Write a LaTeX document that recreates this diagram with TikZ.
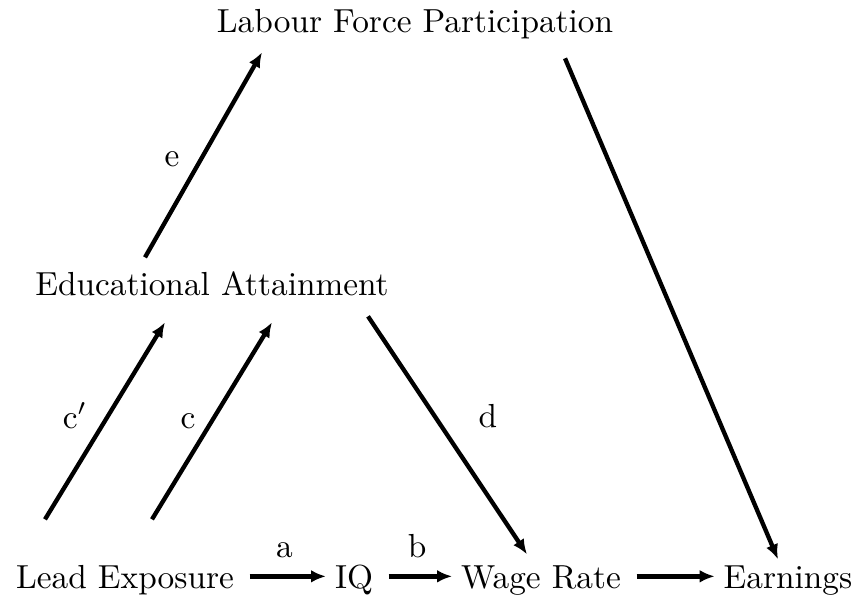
\documentclass[tikz,border=0pt]{standalone}
\usetikzlibrary{arrows.meta}

\begin{document}
\begin{tikzpicture}[
        x=0.3pt, y=0.3pt,
        % --- Styles for the nodes ---
        var/.style={inner sep=2.5pt, text height=8pt, text depth=1pt, anchor=base},
        coef/.style={inner sep=0pt, anchor=base},
        % --- Style for the connectors ---
        link/.style={line width=1.3pt, -{Latex[length=4.5pt, width=3.8pt]}}
    ]

    \useasboundingbox (0,0) rectangle (866,600);

    % --- Variables ---
    \node[var] (lfp)  at (415,567) {Labour Force Participation};
    \node[var] (edu)  at (212,305) {Educational Attainment};
    \node[var] (lead) at (125,12)  {Lead Exposure};
    \node[var] (iq)   at (354,12)  {IQ};
    \node[var] (wage) at (541,12)  {Wage Rate};
    \node[var] (earn) at (788,12)  {Earnings};

    % --- Bottom row ---
    \draw[link, shorten <=2pt] (lead) -- (iq) node[midway, above=5pt, inner sep=0pt] (la) {a};
    \draw[link, shorten <=2pt] (iq) -- (wage) node[midway, above=5pt, inner sep=0pt] (lb) {b};
    \draw[link, shorten <=2pt] (wage) -- (earn);

    % --- Paths through education ---
    \draw[link] ([shift={(-80,33)}]lead.north) -- ([shift={(-47,-15)}]edu.south);
    \draw[link] ([shift={(27,33)}]lead.north) -- ([shift={(60,-15)}]edu.south);
    \draw[link] ([shift={(-67,2)}]edu.north) -- ([shift={(-153,-7)}]lfp.south);
    \draw[link] ([shift={(156,-9)}]edu.south) -- ([shift={(-14,-2)}]wage.north);
    \draw[link] ([shift={(150,-13)}]lfp.south) -- ([shift={(-10,-7)}]earn.north);

    % --- Coefficients ---
    \node[coef] (lc1) at (75,172)  {c$'$};
    \node[coef] (lc)  at (188,172) {c};
    \node[coef] (ld)  at (488,173) {d};
    \node[coef] (le)  at (172,433) {e};

\end{tikzpicture}
\end{document}
